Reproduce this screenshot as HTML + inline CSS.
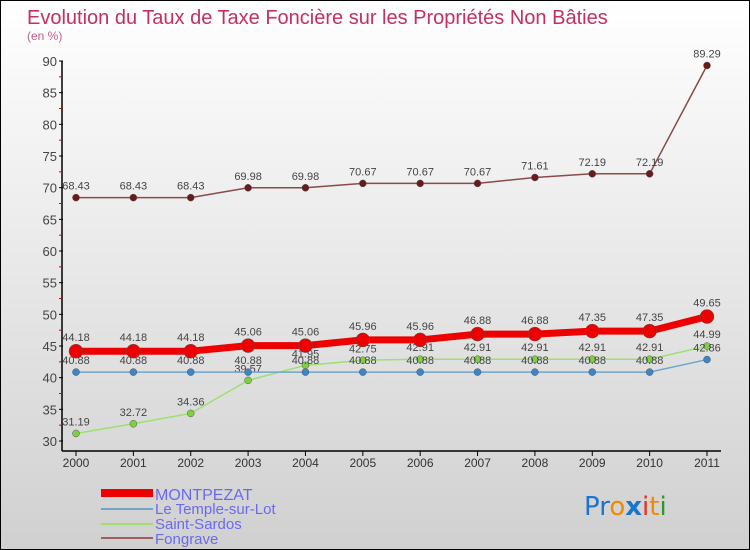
<!DOCTYPE html>
<html><head><meta charset="utf-8"><style>
body{margin:0}
#wrap{position:relative;width:748px;height:548px;border:1px solid #000;background:linear-gradient(#fff,#d0d0d0);font-family:"Liberation Sans",sans-serif;overflow:hidden}
</style></head><body>
<div id="wrap">
<svg id="svg" width="748" height="548" xmlns="http://www.w3.org/2000/svg">
<text x="26" y="23" font-size="20" fill="#c4305f">Evolution du Taux de Taxe Foncière sur les Propriétés Non Bâties</text>
<text x="26" y="39" font-size="12" fill="#c4608f">(en %)</text>
<g id="axes"></g><g id="series"></g>
<g>
<rect x="100" y="488" width="52" height="8" fill="#e00"/>
<text x="154" y="499" font-size="16" fill="#6a6af0">MONTPEZAT</text>
<line x1="100" y1="508" x2="152" y2="508" stroke="#6fa6cc" stroke-width="2"/>
<text x="154" y="513" font-size="15" fill="#6a6af0">Le Temple-sur-Lot</text>
<line x1="100" y1="523" x2="152" y2="523" stroke="#9de070" stroke-width="2"/>
<text x="154" y="528" font-size="15" fill="#6a6af0">Saint-Sardos</text>
<line x1="100" y1="537" x2="152" y2="537" stroke="#9a6060" stroke-width="2"/>
<text x="154" y="543" font-size="15" fill="#6a6af0">Fongrave</text>
</g>
<g font-size="26" font-family="'DejaVu Sans',sans-serif">
<text x="583" y="514"><tspan fill="#1a75cf">Pr</tspan><tspan fill="#f08a00">o</tspan><tspan fill="#1a75cf" font-weight="bold">x</tspan><tspan fill="#e8301c">i</tspan><tspan fill="#f08a00">t</tspan><tspan fill="#2a9a2a">i</tspan></text>
</g>
</svg></div>
<script>
const years=["2000","2001","2002","2003","2004","2005","2006","2007","2008","2009","2010","2011"];
const yTicks=[30,35,40,45,50,55,60,65,70,75,80,85,90];
const montpezat=[44.18,44.18,44.18,45.06,45.06,45.96,45.96,46.88,46.88,47.35,47.35,49.65];
const temple=[40.88,40.88,40.88,40.88,40.88,40.88,40.88,40.88,40.88,40.88,40.88,42.86];
const sardos=[31.19,32.72,34.36,39.57,41.95,42.75,42.91,42.91,42.91,42.91,42.91,44.99];
const fongrave=[68.43,68.43,68.43,69.98,69.98,70.67,70.67,70.67,71.61,72.19,72.19,89.29];
const NS="http://www.w3.org/2000/svg";
const X=i=>75+i*(706-75)/(years.length-1);
const Y=v=>440-(v-30)*(380/60);
function mk(t,a,p){const e=document.createElementNS(NS,t);for(const k in a)e.setAttribute(k,a[k]);p.appendChild(e);return e;}
const ax=document.getElementById('axes'),sg=document.getElementById('series');
const yl=mk('line',{x1:61,y1:Y(90),x2:61,y2:450,stroke:'#000','stroke-width':1.5},ax);


const xl=mk('line',{x1:61,y1:450,x2:720,y2:450,stroke:'#000','stroke-width':1.5},ax);


yTicks.forEach((v,i)=>{
  mk('line',{x1:58,y1:Y(v),x2:62,y2:Y(v),stroke:'#000'},ax);
  if(i<yTicks.length-1)mk('line',{x1:58,y1:Y(v+2.5),x2:61,y2:Y(v+2.5),stroke:'#d00'},ax);
  const t=mk('text',{x:56,y:Y(v)+5,'text-anchor':'end','font-size':13,fill:'#444'},ax);t.textContent=v;
  
  
});
years.forEach((y,i)=>{
  mk('line',{x1:X(i),y1:450,x2:X(i),y2:455,stroke:'#000'},ax);
  const t=mk('text',{x:X(i),y:466,'text-anchor':'middle','font-size':12,fill:'#333'},ax);t.textContent=y;
  
  
});
function series(data,color,lw,r,fill,name,dy){
  const g=mk('g',{},sg);
  
  
  mk('polyline',{points:data.map((v,i)=>X(i)+','+Y(v)).join(' '),fill:'none',stroke:color,'stroke-width':lw,'stroke-linejoin':'round'},g);
  data.forEach((v,i)=>{
    const c=mk('circle',{cx:X(i),cy:Y(v),r:r,fill:fill,stroke:'#555','stroke-width':0.5},g);
    
    
    const t=mk('text',{x:X(i),y:Y(v)+dy,'text-anchor':'middle','font-size':11,fill:'#444'},g);t.textContent=v;
    
    
  });
}
series(fongrave,'#8a4a4a',1.5,3.5,'#6a1a1a','fongrave-series',-8);
series(sardos,'#9de070',1.5,3.5,'#7ed040','saint-sardos-series',-8);
series(temple,'#6fa6cc',1.5,3.5,'#3a86c8','temple-series',-8);
series(montpezat,'#ee0000',7,7,'#ee0000','montpezat-series',-10);
</script>
</body></html>
